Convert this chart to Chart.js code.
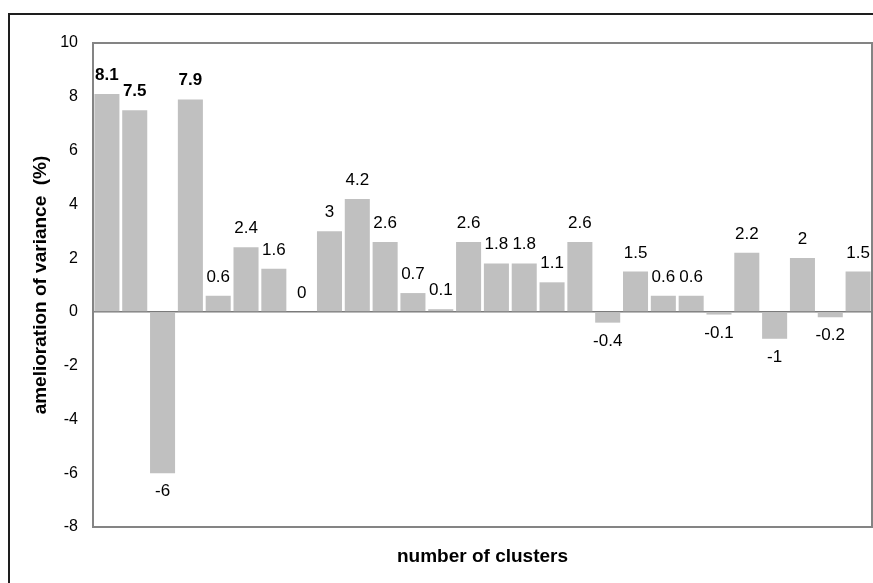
<!DOCTYPE html>
<html>
<head>
<meta charset="utf-8">
<script src="https://cdn.jsdelivr.net/npm/chart.js@4/dist/chart.umd.min.js"></script>
<style>
  html, body { margin: 0; padding: 0; background: #fff; overflow: hidden; }
  #wrap { position: relative; width: 873px; height: 583px; }
  #frame { position: absolute; left: 8px; top: 13px; width: 900px; height: 600px;
           border-top: 2px solid #1e1e1e; border-left: 2px solid #1e1e1e; }
  canvas { position: absolute; left: 0; top: 0; }
</style>
</head>
<body>
<div id="wrap">
  <div id="frame"></div>
  <canvas id="chart" width="873" height="583"></canvas>
</div>
<script>
// number of clusters (x categories, labels not shown on the axis)
const clusters = [2, 3, 4, 5, 6, 7, 8, 9, 10, 11, 12, 13, 14, 15,
                  16, 17, 18, 19, 20, 21, 22, 23, 24, 25, 26, 27, 28, 29];
// amelioration of variance (%)
const amelioration = [8.1, 7.5, -6, 7.9, 0.6, 2.4, 1.6, 0, 3, 4.2, 2.6, 0.7, 0.1, 2.6,
                      1.8, 1.8, 1.1, 2.6, -0.4, 1.5, 0.6, 0.6, -0.1, 2.2, -1, 2, -0.2, 1.5];
const yMin = -8, yMax = 10, yStep = 2;

const FONT = "'Liberation Sans', Arial, sans-serif";

// value labels above / below each bar
const barLabels = {
  id: 'barLabels',
  afterDatasetsDraw(chart) {
    const ctx = chart.ctx;
    const meta = chart.getDatasetMeta(0);
    ctx.save();
    ctx.fillStyle = '#000';
    ctx.textAlign = 'center';
    meta.data.forEach((bar, i) => {
      const v = amelioration[i];
      ctx.font = (i < 4 && v > 0 ? 'bold ' : '') + '17px ' + FONT;
      if (v < 0) {
        ctx.textBaseline = 'top';
        ctx.fillText(String(v), bar.x, bar.y + 10);
      } else {
        ctx.textBaseline = 'alphabetic';
        ctx.fillText(String(v), bar.x, bar.y - 14);
      }
    });
    ctx.restore();
  }
};

// grey plot-area frame
const plotFrame = {
  id: 'plotFrame',
  afterDraw(chart) {
    const { left, top, right, bottom } = chart.chartArea;
    const ctx = chart.ctx;
    ctx.save();
    ctx.strokeStyle = '#848484';
    ctx.lineWidth = 2;
    ctx.strokeRect(left, top, right - left, bottom - top);
    ctx.restore();
  }
};

new Chart(document.getElementById('chart'), {
  type: 'bar',
  data: {
    labels: clusters,
    datasets: [{
      data: amelioration,
      backgroundColor: '#c0c0c0',
      borderWidth: 0,
      barPercentage: 0.9,
      categoryPercentage: 1.0
    }]
  },
  options: {
    responsive: false,
    animation: false,
    events: [],
    layout: { padding: { top: 43, right: 1, left: 0, bottom: 0 } },
    plugins: { legend: { display: false }, tooltip: { enabled: false } },
    scales: {
      x: {
        grid: { display: false },
        border: { display: false },
        ticks: { display: false },
        title: {
          display: true,
          text: 'number of clusters',
          color: '#000',
          font: { family: FONT, size: 19, weight: 'bold' },
          padding: { top: 0, bottom: 15 }
        },
        afterFit(scale) { scale.height = 56; }
      },
      y: {
        min: yMin,
        max: yMax,
        ticks: {
          stepSize: yStep,
          color: '#000',
          padding: 15,
          font: { family: FONT, size: 16 }
        },
        grid: {
          drawTicks: false,
          lineWidth: 1.5,
          color: c => c.tick && c.tick.value === 0 ? '#7a7a7a' : 'rgba(0,0,0,0)'
        },
        border: { display: false },
        title: {
          display: true,
          text: 'amelioration of variance  (%)',
          color: '#000',
          font: { family: FONT, size: 19, weight: 'bold' },
          padding: { top: 29, bottom: 0 }
        },
        afterFit(scale) { scale.width = 93; }
      }
    }
  },
  plugins: [barLabels, plotFrame]
});
</script>
</body>
</html>
